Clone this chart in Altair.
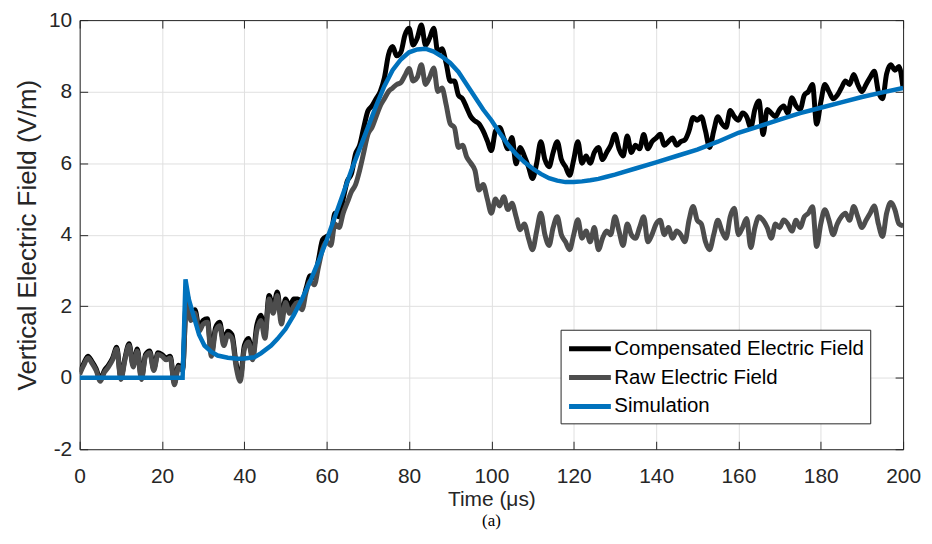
import altair as alt
import pandas as pd

# ---------------- data ----------------
t_meas = list(range(0, 201))  # µs

raw_field = [
    0.1, 0.35, 0.55, 0.4, 0.2, -0.1, 0.15, 0.3, 0.5, 0.8,
    -0.05, 0.5, 0.9, 0.3, 0.75, -0.05, 0.6, 0.7, 0.2, 0.65,
    0.6, 0.5, 0.55, -0.2, 0.3, 0.2, 2.3, 1.6, 1.8, 1.3,
    1.5, 1.55, 0.6, 1.3, 1.45, 0.9, 1.2, 1.1, 0.3, -0.1,
    0.8, 1.0, 0.5, 1.3, 1.6, 1.1, 2.2, 1.8, 2.3, 1.5,
    2.1, 1.8, 2.0, 2.1, 1.9, 2.4, 2.7, 2.6, 3.1, 3.6,
    3.8, 3.7, 4.3, 4.2, 4.6, 4.9, 5.2, 5.4, 5.8, 6.3,
    6.8, 7.0, 7.3, 7.6, 7.8, 8.0, 8.1, 8.2, 8.25, 8.45,
    8.65, 8.3, 8.4, 8.75, 8.2, 8.4, 8.66, 8.0, 8.1, 7.64,
    7.1, 7.0, 6.44, 6.5, 6.17, 6.0, 5.8, 5.25, 5.4, 5.0,
    4.6, 5.0, 4.8, 5.06, 4.7, 4.88, 4.5, 4.14, 4.3, 3.9,
    3.58, 4.1, 4.6, 4.0, 3.7, 4.2, 4.5, 4.0, 3.8, 3.58,
    4.0, 4.42, 3.9, 4.1, 3.8, 4.2, 3.58, 3.9, 4.1, 4.0,
    4.5, 4.1, 3.7, 4.3, 4.0, 3.9, 4.2, 4.5, 3.8, 4.0,
    4.3, 4.4, 4.0, 4.2, 3.9, 4.1, 4.0, 3.8, 4.4, 4.79,
    4.4, 4.3, 3.8, 3.58, 4.0, 4.4, 4.1, 3.9, 4.5, 4.74,
    4.0, 4.2, 4.45, 3.64, 4.2, 4.5, 4.4, 4.2, 3.9, 4.3,
    4.2, 4.41, 4.3, 4.1, 4.4, 4.2, 4.5, 4.6, 4.78, 3.67,
    4.3, 4.7, 4.4, 4.0, 4.3, 4.5, 4.6, 4.4, 4.79, 4.5,
    4.2, 4.4, 4.6, 4.8, 4.3, 3.95, 4.6, 4.9, 4.7, 4.3,
    4.25,
]

comp_field = [
    0.15, 0.4, 0.6, 0.45, 0.25, -0.05, 0.2, 0.35, 0.55, 0.85,
    0.0, 0.55, 0.95, 0.35, 0.8, 0.0, 0.65, 0.75, 0.25, 0.7,
    0.65, 0.55, 0.6, -0.15, 0.35, 0.25, 2.35, 1.7, 1.9, 1.4,
    1.6, 1.65, 0.7, 1.4, 1.55, 1.0, 1.3, 1.2, 0.4, 0.0,
    0.9, 1.1, 0.6, 1.45, 1.75, 1.25, 2.3, 1.95, 2.4, 1.65,
    2.2, 2.0, 2.2, 2.2, 2.1, 2.5, 2.85, 2.8, 3.3, 3.86,
    3.95, 4.0, 4.6, 4.5, 5.0, 5.5, 5.7, 6.26, 6.5, 7.0,
    7.46, 7.6, 7.8, 8.0, 8.38, 9.03, 9.26, 9.0, 9.1, 9.58,
    9.77, 9.3, 9.5, 9.86, 9.3, 9.5, 9.77, 9.1, 9.2, 8.8,
    8.29, 8.3, 7.9, 7.8, 7.55, 7.3, 7.18, 7.1, 6.9, 6.63,
    6.35, 6.9, 7.0, 6.7, 6.4, 6.72, 5.98, 6.44, 6.2, 5.9,
    5.57, 6.0, 6.6, 6.1, 5.9, 6.3, 6.6, 6.1, 5.9, 5.66,
    6.1, 6.6, 6.0, 6.2, 6.0, 6.3, 6.44, 6.1, 6.3, 6.5,
    6.81, 6.4, 6.2, 6.76, 6.3, 6.5, 6.4, 6.8, 6.4, 6.6,
    6.7, 6.81, 6.5, 6.6, 6.7, 6.5, 6.6, 6.65, 6.9, 7.28,
    7.2, 7.3, 6.9, 6.44, 6.9, 7.3, 7.1, 7.0, 7.47, 7.3,
    7.2, 7.4, 7.3, 7.0, 7.5, 7.74, 6.8, 7.5, 7.4, 7.3,
    7.5, 7.6, 7.4, 7.83, 7.6, 7.5, 7.9, 8.0, 8.2, 7.09,
    7.7, 8.2, 8.0, 7.8, 7.9, 8.1, 8.3, 8.2, 8.48, 8.2,
    8.0, 8.2, 8.4, 8.57, 8.0, 7.8, 8.5, 8.75, 8.6, 8.7,
    8.1,
]

sim_t = [0, 25, 25.7, 26.5, 27.9, 29, 30.3, 32, 33.5, 36, 38.4, 40, 42.4, 44,
         46.5, 48, 50, 52, 54, 56, 58, 60, 62, 64, 66, 68, 70, 72, 74, 76, 78,
         80, 82, 84, 86, 88, 90, 92, 94, 96, 98, 100, 102, 104, 106, 108, 110,
         112, 114, 116, 118, 120, 122, 124, 126, 128, 130, 135, 140, 145, 150,
         155, 160, 165, 170, 175, 180, 185, 190, 195, 200]
sim_v = [0, 0, 2.75, 2.2, 1.64, 1.2, 0.9, 0.72, 0.62, 0.56, 0.53, 0.54, 0.57, 0.68,
         0.9, 1.08, 1.36, 1.75, 2.2, 2.7, 3.25, 3.85, 4.5, 5.15, 5.8, 6.4, 7.0,
         7.6, 8.15, 8.6, 8.9, 9.1, 9.18, 9.2, 9.12, 8.98, 8.8, 8.55, 8.2, 7.85,
         7.5, 7.2, 6.85, 6.52, 6.25, 6.03, 5.85, 5.7, 5.58, 5.51, 5.47, 5.47,
         5.49, 5.52, 5.56, 5.62, 5.68, 5.85, 6.02, 6.2, 6.38, 6.6, 6.85, 7.03,
         7.22, 7.4, 7.55, 7.7, 7.85, 7.98, 8.1]

series_names = ["Compensated Electric Field", "Raw Electric Field", "Simulation"]
series_colors = ["#000000", "#4d4d4d", "#0072bd"]
x_ticks = [0, 20, 40, 60, 80, 100, 120, 140, 160, 180, 200]
y_ticks = [-2, 0, 2, 4, 6, 8, 10]

df_comp = pd.DataFrame({"t": t_meas, "v": comp_field, "series": series_names[0]})
df_raw = pd.DataFrame({"t": t_meas, "v": raw_field, "series": series_names[1]})
df_sim = pd.DataFrame({"t": sim_t, "v": sim_v, "series": series_names[2]})

# ---------------- styling ----------------
W, H = 827, 431
FONT = "Liberation Sans"
AX = "#262626"
HYPHEN = "replace(datum.label, '\u2212', '-')"

xs = alt.Scale(domain=[0, 200], nice=False, zero=False)
ys = alt.Scale(domain=[-2, 10], nice=False, zero=False)

legend = alt.Legend(
    title=None, orient="none", legendX=483, legendY=311,
    symbolType="M-1,0H3", symbolSize=441, symbolStrokeWidth=5,
    labelFont=FONT, labelFontSize=20.5, labelColor="#000000", labelOffset=22,
    labelLimit=0, strokeColor=AX, fillColor="white", padding=6, rowPadding=5,
)
color = alt.Color("series:N",
                  scale=alt.Scale(domain=series_names, range=series_colors),
                  legend=legend)

# main axes: labels, titles, grid, bottom/left domain
x_main = alt.Axis(orient="bottom", values=x_ticks, title="Time (μs)", grid=True,
                  gridColor="#e0e0e0", gridWidth=1, ticks=False, tickSize=0,
                  domain=True, domainColor=AX, domainWidth=1,
                  labelFont=FONT, labelFontSize=21, labelColor=AX, labelPadding=16,
                  labelFlush=False, labelExpr=HYPHEN,
                  titleFont=FONT, titleFontSize=21,
                  titleFontWeight="normal", titleColor=AX, titlePadding=3)
y_main = alt.Axis(orient="left", values=y_ticks, title="Vertical Electric Field (V/m)",
                  grid=True, gridColor="#e0e0e0", gridWidth=1, ticks=False, tickSize=0,
                  domain=True, domainColor=AX, domainWidth=1,
                  labelFont=FONT, labelFontSize=21, labelColor=AX, labelPadding=8,
                  labelFlush=False, labelExpr=HYPHEN,
                  titleFont=FONT, titleFontSize=26,
                  titleFontWeight="normal", titleColor=AX, titlePadding=8)
# inward ticks along the bottom / left edges
x_in = alt.Axis(orient="top", offset=-H, values=x_ticks, labels=False, domain=False,
                grid=False, ticks=True, tickSize=8, tickColor=AX, title=None)
y_in = alt.Axis(orient="right", offset=-W, values=y_ticks, labels=False, domain=False,
                grid=False, ticks=True, tickSize=8, tickColor=AX, title=None)
# top / right box edges with inward ticks
x_top = alt.Axis(orient="bottom", offset=-H, values=x_ticks, labels=False, domain=True,
                 domainColor=AX, grid=False, ticks=True, tickSize=8, tickColor=AX,
                 title=None)
y_right = alt.Axis(orient="left", offset=-W, values=y_ticks, labels=False, domain=True,
                   domainColor=AX, grid=False, ticks=True, tickSize=8, tickColor=AX,
                   title=None)

noisy = dict(strokeWidth=5, clip=True, interpolate="monotone", strokeJoin="round")

comp_line = alt.Chart(df_comp).mark_line(**noisy).encode(
    x=alt.X("t:Q", scale=xs, axis=x_main),
    y=alt.Y("v:Q", scale=ys, axis=y_main),
    color=color,
)
raw_line = alt.Chart(df_raw).mark_line(**noisy).encode(
    x=alt.X("t:Q", scale=xs, axis=x_in),
    y=alt.Y("v:Q", scale=ys, axis=y_in),
    color=color,
)
sim_line = alt.Chart(df_sim).mark_line(strokeWidth=4.5, clip=True).encode(
    x=alt.X("t:Q", scale=xs, axis=x_top),
    y=alt.Y("v:Q", scale=ys, axis=y_right),
    color=color,
)

chart = alt.layer(comp_line, raw_line, sim_line).resolve_axis(
    x="independent", y="independent"
).properties(
    width=W, height=H,
    autosize=alt.AutoSizeParams(type="none"),
    padding={"left": 72, "top": 11, "right": 21, "bottom": 86},
    title=alt.TitleParams(text="(a)", orient="bottom", anchor="middle",
                          font="Liberation Serif", fontSize=17,
                          fontWeight="normal", color="#000000", offset=3),
).configure_view(stroke=None)

chart.save("out.html", embed_options={"renderer": "svg", "actions": False})
